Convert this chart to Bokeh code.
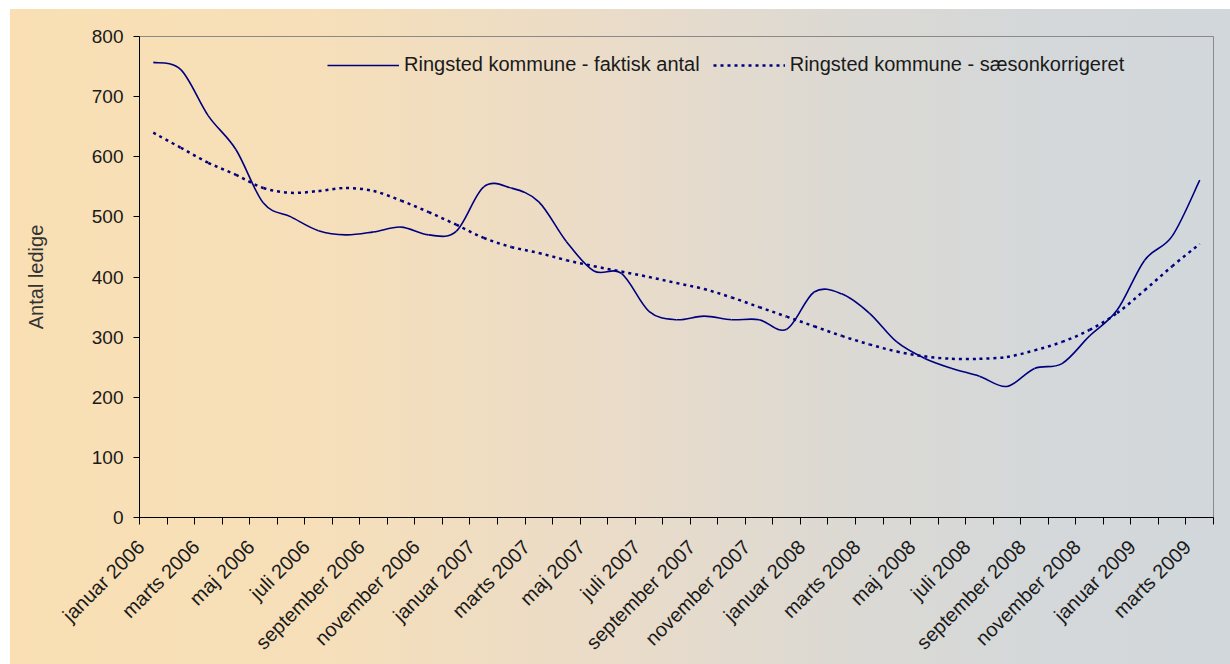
import math
from bokeh.plotting import figure
from bokeh.models import Range1d, FixedTicker, CustomJSTickFormatter
from bokeh.embed import file_html
from bokeh.resources import INLINE

months = ["januar 2006", "februar 2006", "marts 2006", "april 2006", "maj 2006", "juni 2006",
          "juli 2006", "august 2006", "september 2006", "oktober 2006", "november 2006", "december 2006",
          "januar 2007", "februar 2007", "marts 2007", "april 2007", "maj 2007", "juni 2007",
          "juli 2007", "august 2007", "september 2007", "oktober 2007", "november 2007", "december 2007",
          "januar 2008", "februar 2008", "marts 2008", "april 2008", "maj 2008", "juni 2008",
          "juli 2008", "august 2008", "september 2008", "oktober 2008", "november 2008", "december 2008",
          "januar 2009", "februar 2009", "marts 2009"]

faktisk = [757, 745, 668, 612, 523, 500, 477, 470, 475, 483, 470, 476,
           550, 548, 525, 459, 410, 406, 343, 329, 335, 329, 329, 313,
           375, 372, 340, 292, 265, 248, 235, 218, 248, 256, 302, 345,
           428, 468, 561]

saeson = [640, 615, 590, 570, 548, 540, 543, 548, 543, 527, 508, 487,
          465, 450, 440, 428, 418, 409, 400, 390, 380, 366, 350, 334,
          318, 302, 288, 276, 268, 264, 264, 267, 278, 292, 312, 340,
          378, 418, 455]

y_ticks = [0, 100, 200, 300, 400, 500, 600, 700, 800]

FONT = "Liberation Sans"
NAVY = "#00007f"

x = list(range(len(months)))


def smooth_segments(xs, ys):
    """Bezier control points (Catmull-Rom style, as in a smoothed spreadsheet line)."""
    n = len(xs)
    seg = dict(x0=[], y0=[], x1=[], y1=[], cx0=[], cy0=[], cx1=[], cy1=[])
    for i in range(n - 1):
        a = max(i - 1, 0)
        d = min(i + 2, n - 1)
        seg["x0"].append(xs[i]); seg["y0"].append(ys[i])
        seg["x1"].append(xs[i + 1]); seg["y1"].append(ys[i + 1])
        seg["cx0"].append(xs[i] + (xs[i + 1] - xs[a]) / 6.0)
        seg["cy0"].append(ys[i] + (ys[i + 1] - ys[a]) / 6.0)
        seg["cx1"].append(xs[i + 1] - (xs[d] - xs[i]) / 6.0)
        seg["cy1"].append(ys[i + 1] - (ys[d] - ys[i]) / 6.0)
    return seg


p = figure(width=1220, height=655, output_backend="svg", toolbar_location=None,
           x_range=Range1d(-0.5, len(months) - 0.5), y_range=Range1d(0, 800),
           min_border_left=129, min_border_right=17, min_border_top=27, min_border_bottom=146)
p.margin = (9, 0, 0, 10)

p.styles = {"background": "linear-gradient(to right, #f9dfb3 0%, #f6dfb9 25%, #ebdcc8 48%, #dcd9d3 68%, #d4d8da 85%, #d2d7db 100%)"}
p.border_fill_color = None
p.background_fill_color = None
p.outline_line_color = "#8a8a8a"
p.outline_line_width = 1
p.xgrid.visible = False
p.ygrid.visible = False

p.bezier(source=smooth_segments(x, faktisk), x0="x0", y0="y0", x1="x1", y1="y1",
         cx0="cx0", cy0="cy0", cx1="cx1", cy1="cy1",
         line_color=NAVY, line_width=1.6, legend_label="Ringsted kommune - faktisk antal")
p.bezier(source=smooth_segments(x, saeson), x0="x0", y0="y0", x1="x1", y1="y1",
         cx0="cx0", cy0="cy0", cx1="cx1", cy1="cy1",
         line_color=NAVY, line_width=2.5, line_dash="3 4",
         legend_label="Ringsted kommune - sæsonkorrigeret")

# y axis
ya = p.yaxis[0]
ya.ticker = FixedTicker(ticks=y_ticks)
ya.axis_line_color = "black"
ya.major_tick_line_color = "black"
ya.major_tick_out = 6
ya.major_tick_in = 0
ya.minor_tick_line_color = None
ya.major_label_text_font = FONT
ya.major_label_text_font_size = "19px"
ya.major_label_text_color = "#1a1a1a"
ya.major_label_standoff = 10
ya.axis_label = "Antal ledige"
ya.axis_label_text_font = FONT
ya.axis_label_text_font_size = "20px"
ya.axis_label_text_font_style = "normal"
ya.axis_label_text_color = "#333333"
ya.axis_label_standoff = 42

# x axis: labels every second month, ticks at month boundaries
SHIFT = 0.45
xa = p.xaxis[0]
label_idx = list(range(0, len(months), 2))
xa.ticker = FixedTicker(ticks=[i - SHIFT for i in label_idx],
                        minor_ticks=[i - 0.5 for i in range(len(months) + 1)])
xa.formatter = CustomJSTickFormatter(args=dict(labels=months, shift=SHIFT),
                                     code="const k = Math.round(tick + shift); return labels[k] || '';")
xa.major_label_orientation = math.pi / 4
xa.major_tick_out = 0
xa.major_tick_in = 0
xa.minor_tick_out = 7
xa.minor_tick_in = 0
xa.minor_tick_line_color = "black"
xa.axis_line_color = "black"
xa.major_label_text_font = FONT
xa.major_label_text_font_size = "20px"
xa.major_label_text_color = "#1a1a1a"
xa.major_label_standoff = 19

lg = p.legend[0]
lg.orientation = "horizontal"
lg.location = (188, 441)
lg.background_fill_alpha = 0
lg.border_line_alpha = 0
lg.glyph_width = 72
lg.glyph_height = 20
lg.label_standoff = 5
lg.spacing = 13
lg.padding = 0
lg.margin = 0
lg.label_text_font = FONT
lg.label_text_font_size = "20px"
lg.label_text_color = "#1a1a1a"

open("out.html", "w").write(file_html(p, INLINE))
